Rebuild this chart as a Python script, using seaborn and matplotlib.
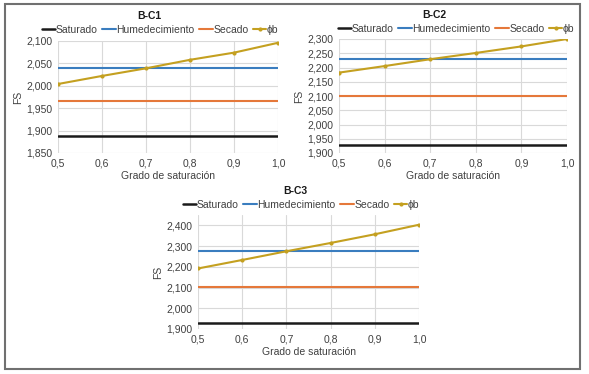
import numpy as np
import pandas as pd
import matplotlib
matplotlib.use('Agg')
import matplotlib.pyplot as plt
import matplotlib.ticker as mticker
from matplotlib.patches import Rectangle
import seaborn as sns

# data
grado = [0.5, 0.6, 0.7, 0.8, 0.9, 1.0]

bc1_saturado = [1.889, 1.889, 1.889, 1.889, 1.889, 1.889]
bc1_humed = [2.039, 2.039, 2.039, 2.039, 2.039, 2.039]
bc1_secado = [1.967, 1.967, 1.967, 1.967, 1.967, 1.967]
bc1_phib = [2.004, 2.022, 2.039, 2.058, 2.074, 2.096]

bc2_saturado = [1.927, 1.927, 1.927, 1.927, 1.927, 1.927]
bc2_humed = [2.230, 2.230, 2.230, 2.230, 2.230, 2.230]
bc2_secado = [2.101, 2.101, 2.101, 2.101, 2.101, 2.101]
bc2_phib = [2.182, 2.205, 2.229, 2.251, 2.274, 2.300]

bc3_saturado = [1.930, 1.930, 1.930, 1.930, 1.930, 1.930]
bc3_humed = [2.278, 2.278, 2.278, 2.278, 2.278, 2.278]
bc3_secado = [2.102, 2.102, 2.102, 2.102, 2.102, 2.102]
bc3_phib = [2.192, 2.233, 2.275, 2.315, 2.357, 2.403]

series_names = ['Saturado', 'Humedecimiento', 'Secado', 'ϕb']
colors = ['#1a1a1a', '#3a7dbf', '#e5783a', '#c4a020']

sns.set_style('whitegrid')
plt.rcParams['font.family'] = ['Liberation Sans', 'DejaVu Sans']

W, H = 589, 374
fig = plt.figure(figsize=(W / 100, H / 100), dpi=100)

def px_axes(l, t, r, b):
    return fig.add_axes([l / W, 1 - b / H, (r - l) / W, (b - t) / H])

def comma(fmt):
    return mticker.FuncFormatter(lambda v, p: format(v, fmt).replace('.', ','))

panels = [
    dict(box=(58, 41, 278, 153), title='B-C1', tpos=(149, 16), lpos=(160, 30),
         data=[bc1_saturado, bc1_humed, bc1_secado, bc1_phib],
         ylim=(1.850, 2.100), ytop=2.100, ystep=0.05),
    dict(box=(339, 39, 567, 153), title='B-C2', tpos=(434, 15), lpos=(456, 29),
         data=[bc2_saturado, bc2_humed, bc2_secado, bc2_phib],
         ylim=(1.900, 2.300), ytop=2.300, ystep=0.05),
    dict(box=(198, 215, 419, 329), title='B-C3', tpos=(295, 191), lpos=(301, 205),
         data=[bc3_saturado, bc3_humed, bc3_secado, bc3_phib],
         ylim=(1.900, 2.450), ytop=2.400, ystep=0.1),
]

for p in panels:
    ax = px_axes(*p['box'])
    for name, vals, c in zip(series_names, p['data'], colors):
        lw = 1.8 if name == 'Saturado' else 1.5
        if name == 'ϕb':
            sns.lineplot(x=grado, y=vals, color=c, lw=lw, marker='o', markersize=3,
                         markeredgewidth=0, label=name, ax=ax)
        else:
            sns.lineplot(x=grado, y=vals, color=c, lw=lw, label=name, ax=ax)
    ax.set_xlim(0.5, 1.0)
    ax.set_ylim(*p['ylim'])
    ax.xaxis.set_major_locator(mticker.MultipleLocator(0.1))
    ax.yaxis.set_major_locator(mticker.FixedLocator(
        np.arange(p['ylim'][0], p['ytop'] + 0.0001, p['ystep'])))
    ax.xaxis.set_major_formatter(comma('.1f'))
    ax.yaxis.set_major_formatter(comma('.3f'))
    ax.grid(True, color='#d9d9d9', lw=0.8)
    for s in ax.spines.values():
        s.set_visible(False)
    ax.tick_params(axis='both', labelsize=7.5, colors='#404040', length=0, pad=4)
    ax.set_xlabel('Grado de saturación', fontsize=7.5, color='#404040', labelpad=2)
    ax.set_ylabel('FS', fontsize=7.5, color='#404040', labelpad=2)
    fig.text(p['tpos'][0] / W, 1 - p['tpos'][1] / H, p['title'], ha='center', va='center',
             fontsize=7.5, fontweight='bold', color='#1a1a1a')
    ax.legend(loc='center', bbox_to_anchor=(p['lpos'][0] / W, 1 - p['lpos'][1] / H),
              bbox_transform=fig.transFigure, ncol=4, frameon=False, fontsize=7.5,
              handlelength=1.3, handletextpad=0.05, columnspacing=0.45, borderpad=0,
              labelcolor='#404040')

fig.patches.append(Rectangle((5 / W, 1 - 369 / H), 575 / W, 365 / H, transform=fig.transFigure,
                             fill=False, edgecolor='#707070', lw=1.5))

fig.savefig('out.png', dpi=100)
